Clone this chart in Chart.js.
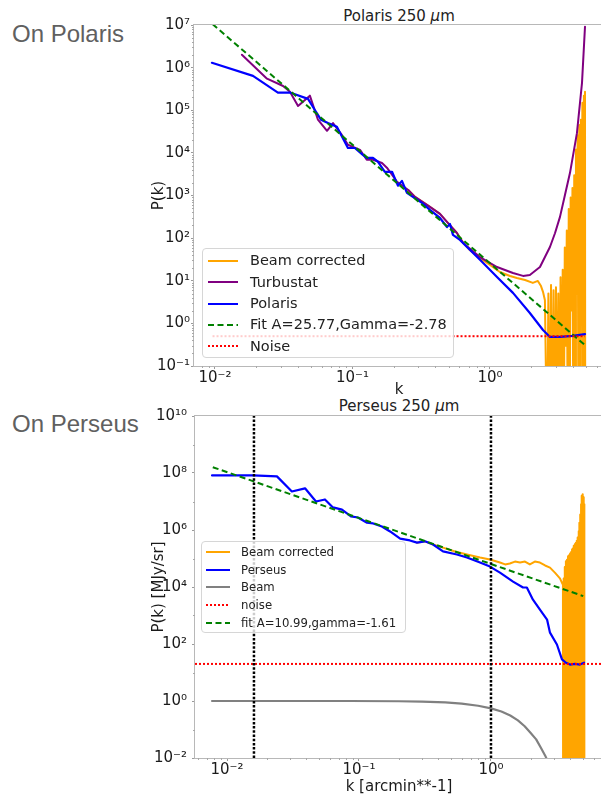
<!DOCTYPE html>
<html>
<head>
<meta charset="utf-8">
<script src="https://cdn.jsdelivr.net/npm/chart.js@4.4.1/dist/chart.umd.min.js"></script>
<style>
  body { margin: 0; background: #fff; }
  #page { position: relative; width: 601px; height: 797px; overflow: hidden; font-family: "DejaVu Sans", sans-serif; }
  canvas { position: absolute; }
  .side { position: absolute; left: 12px; font: 24px/24px "Liberation Sans", Arial, sans-serif; color: #606060; white-space: nowrap; }
  .title { position: absolute; text-align: center; font-size: 15px; line-height: 18px; color: #222; white-space: nowrap; }
  .legend { position: absolute; background: rgba(255,255,255,0.8); border: 1px solid #d6d6d6; border-radius: 4px; box-sizing: border-box; color: #222; }
  .legend span { position: absolute; white-space: nowrap; }
  .legend svg { position: absolute; }
</style>
</head>
<body>
<div id="page">
  <div class="side" style="top:22px">On Polaris</div>
  <div class="side" style="top:412px">On Perseus</div>
  <div class="title" style="left:194px;width:410px;top:7px">Polaris 250 <i>μ</i>m</div>
  <div class="title" style="left:195px;width:408px;top:397px">Perseus 250 <i>μ</i>m</div>
  <canvas id="polaris" width="464" height="403" style="left:146px;top:0px"></canvas>
  <canvas id="perseus" width="464" height="405" style="left:146px;top:395px"></canvas>
  <div class="legend" id="legTop" style="left:202px;top:248px;width:252px;height:110px"></div>
  <div class="legend" id="legBottom" style="left:201px;top:541px;width:205px;height:92px"></div>
</div>
<script>
// ---- Polaris panel data (k, P(k)) ----
const polarisK = [0.0095, 0.0189, 0.0287, 0.0351, 0.0475, 0.0534, 0.059, 0.0663, 0.077, 0.0927, 0.104, 0.119, 0.127, 0.141, 0.153, 0.172, 0.194, 0.214, 0.229, 0.249, 0.275, 0.32, 0.366, 0.433, 0.487, 0.512, 0.538, 0.605, 0.681, 0.846, 1.125, 1.47, 1.95, 2.43, 2.73, 3.23, 4.0, 4.91];
const polarisP = [1.3e6, 6.4e5, 2.6e5, 2.6e5, 1.85e5, 1.0e5, 6.0e4, 5.0e4, 4.1e4, 1.3e4, 1.3e4, 9.0e3, 7.6e3, 7.6e3, 6.2e3, 3.6e3, 3.6e3, 1.7e3, 2.2e3, 1.15e3, 930, 670, 460, 297, 182, 215, 119, 91, 62, 31, 12.3, 5.2, 1.75, 0.70, 0.48, 0.48, 0.51, 0.56];

const turbK = [0.0157, 0.0239, 0.0313, 0.0351, 0.0402, 0.049, 0.0561, 0.0653, 0.0722, 0.0839, 0.0927, 0.1135, 0.127, 0.141, 0.164, 0.178, 0.211, 0.2545, 0.285, 0.366, 0.433, 0.487, 0.575, 0.637, 0.846, 1.125, 1.47, 1.74, 1.95, 2.31, 2.73, 2.97, 3.23, 3.51, 3.82, 4.29, 4.67, 4.91];
const turbP = [2.0e6, 5.5e5, 3.7e5, 2.7e5, 1.26e5, 2.2e5, 6.0e4, 3.3e4, 5.0e4, 2.6e4, 1.55e4, 1.18e4, 6.9e3, 6.9e3, 5.8e3, 4.5e3, 2.1e3, 1350, 930, 540, 370, 240, 132, 77, 36, 21, 15.2, 13, 13.7, 21, 62, 130, 315, 1030, 3400, 2.9e4, 4.4e5, 9.1e6];

const beamCorrTopK = [0.2545, 0.285, 0.366, 0.433, 0.487, 0.575, 0.637, 0.716, 0.846, 1.0, 1.18, 1.40, 1.57, 1.80, 2.05, 2.23, 2.35, 2.43, 2.51,
  2.60, 2.66, 2.72, 2.78, 2.84, 2.90, 2.96, 3.02, 3.08, 3.14, 3.20, 3.26, 3.32, 3.38, 3.44, 3.50, 3.56, 3.62, 3.68, 3.74, 3.80,
  3.86, 3.92, 3.98, 4.04, 4.10, 4.16, 4.22, 4.28, 4.34, 4.40, 4.46, 4.52, 4.58, 4.64, 4.70, 4.76, 4.82, 4.88, 4.91, 4.93];
const beamCorrTopP = [1350, 930, 540, 370, 240, 132, 80, 52, 34, 23.5, 16, 12.9, 11.6, 10.4, 8.9, 9.9, 7.5, 5.5, 3.5,
  0.001, 5, 0.001, 8, 0.001, 6, 0.001, 7, 0.001, 5, 0.001, 12, 0.001, 18, 0.001, 60, 0.3, 150, 0.001, 480, 0.001,
  900, 2, 1500, 0.001, 3000, 0.001, 1.2e4, 5, 2.6e4, 0.001, 4.5e4, 0.001, 6e4, 20, 1.5e5, 0.001, 2.2e5, 0.001, 2.7e5, 0.001];

const fitTopK = [0.0096, 4.9];
const fitTopP = [1.05e7, 0.31];
const noiseTopK = [0.0096, 4.91];
const noiseTopP = [0.5, 0.5];

// ---- Perseus panel data ----
const perseusK = [0.0077, 0.0119, 0.0157, 0.0239, 0.031, 0.039, 0.0472, 0.0552, 0.0635, 0.0743, 0.0869, 0.0982, 0.115, 0.128, 0.149, 0.172, 0.205, 0.243, 0.275, 0.316, 0.364, 0.433, 0.552, 0.658, 0.826, 0.982, 1.17, 1.47, 1.75, 1.87, 2.08, 2.35, 2.66, 2.80, 3.16, 3.45, 3.70, 3.97, 4.33, 4.72, 5.07];
const perseusP = [8.2e7, 8.2e7, 8.2e7, 7.6e7, 2.25e7, 2.9e7, 1.0e7, 1.18e7, 6.2e6, 5.2e6, 3.0e6, 2.75e6, 1.8e6, 1.7e6, 1.33e6, 8.9e5, 5.0e5, 4.3e5, 3.6e5, 4.0e5, 3.1e5, 1.77e5, 1.38e5, 1.08e5, 7.2e4, 5.2e4, 3.2e4, 1.55e4, 9.6e3, 9.6e3, 3.6e3, 1.6e3, 720, 250, 96, 29, 22, 19, 20, 19, 22];

const beamCorrK = [0.275, 0.316, 0.364, 0.433, 0.534, 0.658, 0.826, 0.982, 1.17, 1.28, 1.39, 1.52, 1.66, 1.81, 1.97, 2.15, 2.35, 2.57, 2.80, 3.05, 3.33, 3.51,
  3.52, 3.555, 3.59, 3.625, 3.66, 3.695, 3.73, 3.765, 3.80, 3.835, 3.87, 3.905, 3.94, 3.975, 4.01, 4.045, 4.08, 4.115, 4.15, 4.185,
  4.22, 4.255, 4.29, 4.325, 4.36, 4.395, 4.43, 4.465, 4.50, 4.535, 4.57, 4.605, 4.64, 4.675, 4.71, 4.745, 4.78, 4.815, 4.85, 4.885,
  4.92, 4.955, 4.99, 5.025, 5.06, 5.085, 5.10];
const beamCorrP = [3.6e5, 4.0e5, 3.1e5, 2.4e5, 1.76e5, 1.38e5, 1.08e5, 9.2e4, 7.2e4, 6.2e4, 6.7e4, 7.8e4, 7.2e4, 7.8e4, 6.2e4, 7.8e4, 7.2e4, 5.7e4, 4.8e4, 3.2e4, 2.0e4, 1.2e4,
  1e-4, 2.0e4, 1e-4, 5e4, 1e-4, 8e4, 1e-4, 9e4, 1e-4, 1.2e5, 1e-4, 1.3e5, 1e-4, 1.5e5, 1e-4, 1.7e5, 1e-4, 2.1e5, 1e-4, 2.3e5,
  1e-4, 2.8e5, 1e-4, 3.2e5, 1e-4, 3.6e5, 1e-4, 4.2e5, 1e-4, 5.5e5, 1e-4, 9e5, 1e-4, 1.8e6, 1e-4, 3.5e6, 1e-4, 8e6, 1e-4, 1.6e7,
  1e-4, 1.8e7, 1e-4, 1.4e7, 1e-4, 8e6, 1e-4];

const beamK = [0.0077, 0.03, 0.085, 0.2, 0.3, 0.45, 0.6, 0.8, 1.0, 1.2, 1.4, 1.6, 1.8, 2.0, 2.2, 2.4, 2.6, 2.8];
const beamP = [1.0, 1.0, 1.0, 0.98, 0.95, 0.89, 0.81, 0.68, 0.55, 0.43, 0.31, 0.21, 0.13, 0.075, 0.045, 0.022, 0.011, 0.005];

const fitK = [0.0078, 5.0];
const fitP = [1.6e8, 4.8e3];
const noiseLevel = 20;
const kMarks = [0.016, 1.0];

// ---- axes ----
const topX = { min: 0.00704, max: 6.75, ticks: [1e-2, 1e-1, 1] };
const topY = { min: 1e-1, max: 1e7, ticks: [1e-1, 1, 1e1, 1e2, 1e3, 1e4, 1e5, 1e6, 1e7] };
const botX = { min: 0.00572, max: 7.06, ticks: [1e-2, 1e-1, 1] };
const botY = { min: 1e-2, max: 1e10, ticks: [1e-2, 1, 1e2, 1e4, 1e6, 1e8, 1e10] };

const ORANGE = '#ffa500', PURPLE = '#800080', BLUE = '#0000ff', GREEN = '#008000', RED = '#ff0000', GRAY = '#808080', BLACK = '#000000';
const DASHED = [6, 3.5], DOTTED = [2, 2];

const SUP = { '0': '⁰', '1': '¹', '2': '²', '3': '³', '4': '⁴', '5': '⁵', '6': '⁶', '7': '⁷', '8': '⁸', '9': '⁹', '-': '⁻' };
function pow10Label(v) {
  const e = Math.round(Math.log10(v));
  return '10' + String(e).split('').map(c => SUP[c]).join('');
}

function line(ks, ps, color, width, dash, order) {
  return {
    data: ks.map((k, i) => ({ x: k, y: ps[i] })),
    showLine: true, borderColor: color, backgroundColor: color, borderWidth: width,
    borderDash: dash || [], pointRadius: 0, order: order,
    borderJoinStyle: 'round', borderCapStyle: dash ? 'butt' : 'round'
  };
}

function axis(ax, pos, size, title, pad) {
  return {
    type: 'logarithmic', position: pos, min: ax.min, max: ax.max,
    afterBuildTicks: s => { s.ticks = ax.ticks.map(v => ({ value: v })); },
    afterFit: s => { if (pos === 'bottom') s.height = size; else s.width = size; },
    ticks: { callback: v => pow10Label(v), autoSkip: false, maxRotation: 0, padding: pad, color: '#1a1a1a',
      font: { family: 'DejaVu Sans', size: 15, lineHeight: 1.1 } },
    grid: { drawOnChartArea: false, drawTicks: true, tickLength: 3, tickColor: '#9a9a9a' },
    border: { display: false },
    title: { display: true, text: title, color: '#1a1a1a', font: { family: 'DejaVu Sans', size: 15 }, padding: { top: 4, bottom: 4 } }
  };
}

// frame box + minor ticks like matplotlib
const framePlugin = {
  id: 'frame',
  afterDraw(chart, args, opts) {
    const { ctx, chartArea: a } = chart;
    ctx.save();
    ctx.strokeStyle = '#b8b8b8';
    ctx.lineWidth = 1;
    ctx.strokeRect(Math.round(a.left) - 0.5, Math.round(a.top) - 0.5, Math.round(a.width) + 1, Math.round(a.height) + 1);
    ctx.strokeStyle = '#a8a8a8';
    ['x', 'y'].forEach(id => {
      const s = chart.scales[id];
      const subs = opts[id + 'Subs'];
      const majors = s.ticks.map(t => t.value);
      for (let e = Math.floor(Math.log10(s.min)); e <= Math.ceil(Math.log10(s.max)); e++) {
        subs.forEach(m => {
          const v = m * Math.pow(10, e);
          if (v < s.min || v > s.max || majors.some(t => Math.abs(t - v) / v < 1e-6)) return;
          const p = Math.round(s.getPixelForValue(v)) + 0.5;
          ctx.beginPath();
          if (id === 'x') { ctx.moveTo(p, a.bottom); ctx.lineTo(p, a.bottom + 2); }
          else { ctx.moveTo(a.left, p); ctx.lineTo(a.left - 2, p); }
          ctx.stroke();
        });
      }
    });
    ctx.restore();
  }
};

function baseOptions(padTop, padRight, xs, ys, frameOpts) {
  return {
    responsive: false, animation: false, events: [], devicePixelRatio: 1,
    layout: { padding: { top: padTop, right: padRight, left: 0, bottom: 0 } },
    plugins: { legend: { display: false }, tooltip: { enabled: false }, title: { display: false }, frame: frameOpts },
    scales: { x: xs, y: ys }
  };
}

const SUBS = [2, 3, 4, 5, 6, 7, 8, 9];

new Chart(document.getElementById('polaris'), {
  type: 'scatter',
  data: { datasets: [
    line(beamCorrTopK, beamCorrTopP, ORANGE, 2, null, 5),
    line(turbK, turbP, PURPLE, 2, null, 4),
    line(polarisK, polarisP, BLUE, 2.2, null, 3),
    line(fitTopK, fitTopP, GREEN, 2, DASHED, 2),
    line(noiseTopK, noiseTopP, RED, 2, DOTTED, 1)
  ] },
  options: baseOptions(25, 6, axis(topX, 'bottom', 37, 'k', 1), axis(topY, 'left', 48, 'P(k)', 1), { xSubs: SUBS, ySubs: SUBS }),
  plugins: [framePlugin]
});

new Chart(document.getElementById('perseus'), {
  type: 'scatter',
  data: { datasets: [
    line(beamCorrK, beamCorrP, ORANGE, 2, null, 7),
    line(perseusK, perseusP, BLUE, 2.2, null, 6),
    line(beamK, beamP, GRAY, 2.2, null, 5),
    line([botX.min, botX.max], [noiseLevel, noiseLevel], RED, 2, DOTTED, 4),
    line(fitK, fitP, GREEN, 2, DASHED, 3),
    line([kMarks[0], kMarks[0]], [botY.min, botY.max], BLACK, 2.5, [2.5, 1.7], 2),
    line([kMarks[1], kMarks[1]], [botY.min, botY.max], BLACK, 2.5, [2.5, 1.7], 1)
  ] },
  options: baseOptions(21, 7, axis(botX, 'bottom', 42, 'k [arcmin**-1]', 1), axis(botY, 'left', 49, 'P(k) [MJy/sr]', 5), { xSubs: SUBS, ySubs: [1] }),
  plugins: [framePlugin]
});

// ---- legends ----
function buildLegend(el, items, o) {
  items.forEach((it, i) => {
    const cy = o.first + i * o.step;
    const dash = it.dash ? ` stroke-dasharray="${it.dash.join(',')}"` : '';
    el.insertAdjacentHTML('beforeend',
      `<svg width="${o.sw}" height="10" style="left:${o.sl}px;top:${cy - 5}px"><line x1="0" y1="5" x2="${o.sw}" y2="5" stroke="${it.color}" stroke-width="2"${dash}/></svg>` +
      `<span style="left:${o.tl}px;top:${cy - o.fs * 0.6}px;font-size:${o.fs}px;line-height:${o.fs * 1.2}px">${it.label}</span>`);
  });
}

buildLegend(document.getElementById('legTop'), [
  { label: 'Beam corrected', color: ORANGE },
  { label: 'Turbustat', color: PURPLE },
  { label: 'Polaris', color: BLUE },
  { label: 'Fit A=25.77,Gamma=-2.78', color: GREEN, dash: DASHED },
  { label: 'Noise', color: RED, dash: DOTTED }
], { first: 12, step: 21.3, sl: 5, sw: 30, tl: 47, fs: 14.5 });

buildLegend(document.getElementById('legBottom'), [
  { label: 'Beam corrected', color: ORANGE },
  { label: 'Perseus', color: BLUE },
  { label: 'Beam', color: GRAY },
  { label: 'noise', color: RED, dash: DOTTED },
  { label: 'fit A=10.99,gamma=-1.61', color: GREEN, dash: DASHED }
], { first: 10, step: 17.7, sl: 4, sw: 24, tl: 39, fs: 11.7 });
</script>
</body>
</html>
